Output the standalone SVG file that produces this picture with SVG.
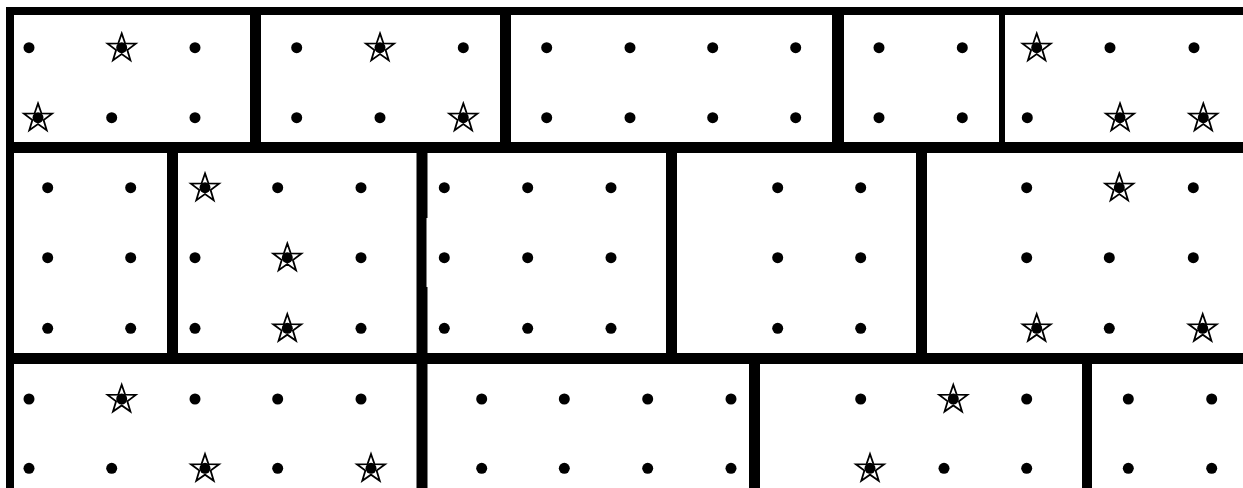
<svg xmlns="http://www.w3.org/2000/svg" xmlns:xlink="http://www.w3.org/1999/xlink" width="1243" height="488" viewBox="0 0 1243 488">
<style>
.wall{fill:#000}
.dot{fill:#000}
.star{fill:#fff;stroke:#000;stroke-width:1.8;stroke-linejoin:miter}
</style>
<defs>
<polygon id="star" class="star" points="0,-14.8 3.47,-4.77 14.08,-4.57 5.61,1.82 8.7,11.97 0,5.9 -8.7,11.97 -5.61,1.82 -14.08,-4.57 -3.47,-4.77"/>
<circle id="d" class="dot" r="5.5"/>
</defs>
<rect x="0" y="0" width="1243" height="488" fill="#fff"/>
<g id="walls">
<rect class="wall" x="6" y="7" width="1237" height="8"/>
<rect class="wall" x="6" y="7" width="8" height="481"/>
<rect class="wall" x="6" y="142" width="1237" height="11"/>
<rect class="wall" x="6" y="353" width="1237" height="11"/>
<rect class="wall" x="250" y="7" width="11" height="146"/>
<rect class="wall" x="500" y="7" width="11" height="146"/>
<rect class="wall" x="832" y="7" width="12" height="146"/>
<rect class="wall" x="999" y="7" width="6" height="146"/>
<rect class="wall" x="167" y="142" width="11" height="222"/>
<rect class="wall" x="416.5" y="142" width="11" height="76"/>
<rect class="wall" x="416.5" y="218" width="10" height="69"/>
<rect class="wall" x="416.5" y="287" width="11" height="77"/>
<rect class="wall" x="666" y="142" width="11" height="222"/>
<rect class="wall" x="916" y="142" width="11" height="222"/>
<rect class="wall" x="416.5" y="353" width="11" height="135"/>
<rect class="wall" x="749" y="353" width="11" height="135"/>
<rect class="wall" x="1082" y="353" width="10" height="135"/>
</g>
<g id="room-r1-1">
<use xlink:href="#d" x="29" y="47.7"/>
<use xlink:href="#star" x="121.7" y="48.2"/><use xlink:href="#d" x="121.7" y="47.7"/>
<use xlink:href="#d" x="195" y="47.7"/>
<use xlink:href="#star" x="38" y="118.2"/><use xlink:href="#d" x="38" y="117.7"/>
<use xlink:href="#d" x="111.7" y="117.7"/>
<use xlink:href="#d" x="195" y="117.7"/>
</g>
<g id="room-r1-2">
<use xlink:href="#d" x="296.7" y="47.7"/>
<use xlink:href="#star" x="380" y="48.2"/><use xlink:href="#d" x="380" y="47.7"/>
<use xlink:href="#d" x="463.3" y="47.7"/>
<use xlink:href="#d" x="296.7" y="117.7"/>
<use xlink:href="#d" x="380" y="117.7"/>
<use xlink:href="#star" x="463.3" y="118.2"/><use xlink:href="#d" x="463.3" y="117.7"/>
</g>
<g id="room-r1-3">
<use xlink:href="#d" x="546.7" y="47.7"/><use xlink:href="#d" x="630" y="47.7"/><use xlink:href="#d" x="712.7" y="47.7"/><use xlink:href="#d" x="795.7" y="47.7"/>
<use xlink:href="#d" x="546.7" y="117.7"/><use xlink:href="#d" x="630" y="117.7"/><use xlink:href="#d" x="712.7" y="117.7"/><use xlink:href="#d" x="795.7" y="117.7"/>
</g>
<g id="room-r1-4">
<use xlink:href="#d" x="879" y="47.7"/><use xlink:href="#d" x="962.3" y="47.7"/>
<use xlink:href="#d" x="879" y="117.7"/><use xlink:href="#d" x="962.3" y="117.7"/>
</g>
<g id="room-r1-5">
<use xlink:href="#star" x="1036.7" y="48.2"/><use xlink:href="#d" x="1036.7" y="47.7"/>
<use xlink:href="#d" x="1110" y="47.7"/>
<use xlink:href="#d" x="1194" y="47.7"/>
<use xlink:href="#d" x="1027.3" y="117.7"/>
<use xlink:href="#star" x="1120" y="118.2"/><use xlink:href="#d" x="1120" y="117.7"/>
<use xlink:href="#star" x="1203.3" y="118.2"/><use xlink:href="#d" x="1203.3" y="117.7"/>
</g>
<g id="room-r2-1">
<use xlink:href="#d" x="47.7" y="187.7"/><use xlink:href="#d" x="130.7" y="187.7"/>
<use xlink:href="#d" x="47.7" y="257.7"/><use xlink:href="#d" x="130.7" y="257.7"/>
<use xlink:href="#d" x="47.7" y="328.3"/><use xlink:href="#d" x="130.7" y="328.3"/>
</g>
<g id="room-r2-2">
<use xlink:href="#star" x="205" y="188.2"/><use xlink:href="#d" x="205" y="187.7"/>
<use xlink:href="#d" x="277.7" y="187.7"/>
<use xlink:href="#d" x="361" y="187.7"/>
<use xlink:href="#d" x="195" y="257.7"/>
<use xlink:href="#star" x="287.3" y="258.2"/><use xlink:href="#d" x="287.3" y="257.7"/>
<use xlink:href="#d" x="361" y="257.7"/>
<use xlink:href="#d" x="195" y="328.3"/>
<use xlink:href="#star" x="287.3" y="328.8"/><use xlink:href="#d" x="287.3" y="328.3"/>
<use xlink:href="#d" x="361" y="328.3"/>
</g>
<g id="room-r2-3">
<use xlink:href="#d" x="444.3" y="187.7"/><use xlink:href="#d" x="527.7" y="187.7"/><use xlink:href="#d" x="611" y="187.7"/>
<use xlink:href="#d" x="444.3" y="257.7"/><use xlink:href="#d" x="527.7" y="257.7"/><use xlink:href="#d" x="611" y="257.7"/>
<use xlink:href="#d" x="444.3" y="328.3"/><use xlink:href="#d" x="527.7" y="328.3"/><use xlink:href="#d" x="611" y="328.3"/>
</g>
<g id="room-r2-4">
<use xlink:href="#d" x="777.7" y="187.7"/><use xlink:href="#d" x="860.7" y="187.7"/>
<use xlink:href="#d" x="777.7" y="257.7"/><use xlink:href="#d" x="860.7" y="257.7"/>
<use xlink:href="#d" x="777.7" y="328.3"/><use xlink:href="#d" x="860.7" y="328.3"/>
</g>
<g id="room-r2-5">
<use xlink:href="#d" x="1026.7" y="187.7"/>
<use xlink:href="#star" x="1119.3" y="188.2"/><use xlink:href="#d" x="1119.3" y="187.7"/>
<use xlink:href="#d" x="1193.3" y="187.7"/>
<use xlink:href="#d" x="1026.7" y="257.7"/><use xlink:href="#d" x="1109.3" y="257.7"/><use xlink:href="#d" x="1193.3" y="257.7"/>
<use xlink:href="#star" x="1036.7" y="328.8"/><use xlink:href="#d" x="1036.7" y="328.3"/>
<use xlink:href="#d" x="1109.3" y="328.3"/>
<use xlink:href="#star" x="1202.7" y="328.8"/><use xlink:href="#d" x="1202.7" y="328.3"/>
</g>
<g id="room-r3-1">
<use xlink:href="#d" x="29" y="399"/>
<use xlink:href="#star" x="121.7" y="399.5"/><use xlink:href="#d" x="121.7" y="399"/>
<use xlink:href="#d" x="195" y="399"/><use xlink:href="#d" x="277.7" y="399"/><use xlink:href="#d" x="361" y="399"/>
<use xlink:href="#d" x="29" y="468.3"/><use xlink:href="#d" x="111.7" y="468.3"/>
<use xlink:href="#star" x="205" y="468.8"/><use xlink:href="#d" x="205" y="468.3"/>
<use xlink:href="#d" x="277.7" y="468.3"/>
<use xlink:href="#star" x="371" y="468.8"/><use xlink:href="#d" x="371" y="468.3"/>
</g>
<g id="room-r3-2">
<use xlink:href="#d" x="481.7" y="399"/><use xlink:href="#d" x="564.3" y="399"/><use xlink:href="#d" x="647.7" y="399"/><use xlink:href="#d" x="731" y="399"/>
<use xlink:href="#d" x="481.7" y="468.3"/><use xlink:href="#d" x="564.3" y="468.3"/><use xlink:href="#d" x="647.7" y="468.3"/><use xlink:href="#d" x="731" y="468.3"/>
</g>
<g id="room-r3-3">
<use xlink:href="#d" x="860.7" y="399"/>
<use xlink:href="#star" x="953.3" y="399.5"/><use xlink:href="#d" x="953.3" y="399"/>
<use xlink:href="#d" x="1026.7" y="399"/>
<use xlink:href="#star" x="870" y="468.8"/><use xlink:href="#d" x="870" y="468.3"/>
<use xlink:href="#d" x="944" y="468.3"/>
<use xlink:href="#d" x="1026.7" y="468.3"/>
</g>
<g id="room-r3-4">
<use xlink:href="#d" x="1128.3" y="399"/><use xlink:href="#d" x="1211.7" y="399"/>
<use xlink:href="#d" x="1128.3" y="468.3"/><use xlink:href="#d" x="1211.7" y="468.3"/>
</g>
</svg>
